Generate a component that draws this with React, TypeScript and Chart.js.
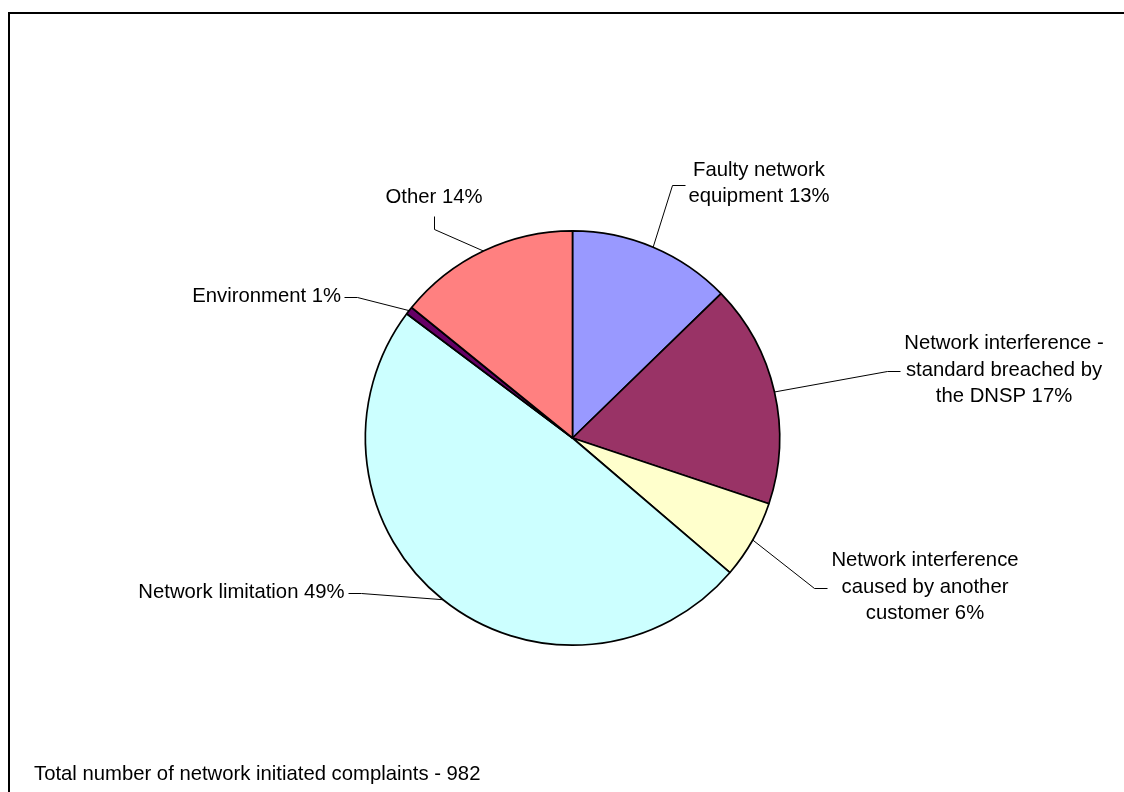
import React, { useEffect, useRef } from "react";
import { Chart, registerables } from "chart.js";

Chart.register(...registerables);

// ---- data ----
const categories = [
  "Faulty network equipment",
  "Network interference - standard breached by the DNSP",
  "Network interference caused by another customer",
  "Network limitation",
  "Environment",
  "Other",
];
const complaintCounts = [125, 171, 60, 481, 6, 139];
const totalComplaints = 982;
const labelNameLines = [
  ["Faulty network", "equipment"],
  ["Network interference -", "standard breached by", "the DNSP"],
  ["Network interference", "caused by another", "customer"],
  ["Network limitation"],
  ["Environment"],
  ["Other"],
];
const footnoteText = "Total number of network initiated complaints - " + totalComplaints;

// ---- styles / layout ----
const sliceColors = ["#9999FF", "#993366", "#FFFFCC", "#CCFFFF", "#660066", "#FF8080"];
// label block centre offset from pie centre, and side where leader attaches
const labelLayout: { dx: number; dy: number; side: "left" | "right" | "bottom" }[] = [
  { dx: 186.5, dy: -254.5, side: "left" },
  { dx: 431.5, dy: -68, side: "left" },
  { dx: 352.5, dy: 149, side: "left" },
  { dx: -331, dy: 154, side: "right" },
  { dx: -305.8, dy: -142, side: "right" },
  { dx: -138.5, dy: -240.3, side: "bottom" },
];
const FONT = '20.3px "Liberation Sans", Arial, sans-serif';
const LINE_H = 26.7;

const labelPlugin = {
  id: "pieLabels",
  afterDraw(chart: any) {
    const ctx: CanvasRenderingContext2D = chart.ctx;
    ctx.save();
    // outer frame
    ctx.fillStyle = "#000";
    ctx.fillRect(8, 12, chart.width, 2);
    ctx.fillRect(8, 12, 2, chart.height);

    const meta = chart.getDatasetMeta(0);
    const total = complaintCounts.reduce((a, b) => a + b, 0);
    ctx.font = FONT;
    ctx.fillStyle = "#000";
    ctx.strokeStyle = "#000";
    ctx.lineWidth = 1;
    meta.data.forEach((arc: any, i: number) => {
      const p = arc.getProps(["x", "y", "startAngle", "endAngle", "outerRadius"], true);
      const mid = (p.startAngle + p.endAngle) / 2;
      const ax = p.x + Math.cos(mid) * p.outerRadius;
      const ay = p.y + Math.sin(mid) * p.outerRadius;
      const pct = Math.round((complaintCounts[i] / total) * 100) + "%";
      const lines = labelNameLines[i].slice();
      lines[lines.length - 1] = lines[lines.length - 1] + " " + pct;
      const lay = labelLayout[i];
      const cx = p.x + lay.dx;
      const cy = p.y + lay.dy;
      const widths = lines.map((l) => ctx.measureText(l).width);
      const maxW = Math.max(...widths);
      const n = lines.length;
      ctx.textAlign = "center";
      ctx.textBaseline = "middle";
      lines.forEach((l, k) => {
        ctx.fillText(l, cx, cy + (k - (n - 1) / 2) * LINE_H);
      });
      // leader line
      let sx = 0, sy = 0, ex = 0, ey = 0;
      if (lay.side === "left") {
        sx = cx - maxW / 2 - 4;
        sy = cy + 1;
        ex = sx - 13;
        ey = sy;
      } else if (lay.side === "right") {
        sx = cx + maxW / 2 + 3;
        sy = cy + 1;
        ex = sx + 13;
        ey = sy;
      } else {
        sx = cx;
        sy = cy + (n * LINE_H) / 2 + 5;
        ex = sx;
        ey = sy + 13;
      }
      ctx.beginPath();
      ctx.moveTo(Math.round(sx) + 0.5, Math.round(sy) + 0.5);
      ctx.lineTo(Math.round(ex) + 0.5, Math.round(ey) + 0.5);
      ctx.lineTo(ax, ay);
      ctx.stroke();
    });

    // footnote
    ctx.textAlign = "left";
    ctx.textBaseline = "alphabetic";
    ctx.fillText(footnoteText, 34, 780);
    ctx.restore();
  },
};

export default function App() {
  const ref = useRef<HTMLCanvasElement | null>(null);
  useEffect(() => {
    if (!ref.current) return;
    const chart = new Chart(ref.current, {
      type: "pie",
      data: {
        labels: categories,
        datasets: [
          {
            data: complaintCounts,
            backgroundColor: sliceColors,
            borderColor: "#000",
            borderWidth: 1.7,
            hoverOffset: 0,
            hoverBorderWidth: 1.7,
          },
        ],
      },
      options: {
        responsive: false,
        animation: false,
        events: [],
        layout: { padding: { left: 364, right: 343, top: 230, bottom: 146 } },
        plugins: {
          legend: { display: false },
          tooltip: { enabled: false },
          title: { display: false },
        },
      },
      plugins: [labelPlugin],
    });
    return () => chart.destroy();
  }, []);
  return (
    <div style={{ position: "fixed", left: 0, top: 0, width: 1124, height: 792, background: "#fff" }}>
      <canvas ref={ref} width={1124} height={792} style={{ width: 1124, height: 792, display: "block" }} />
    </div>
  );
}
